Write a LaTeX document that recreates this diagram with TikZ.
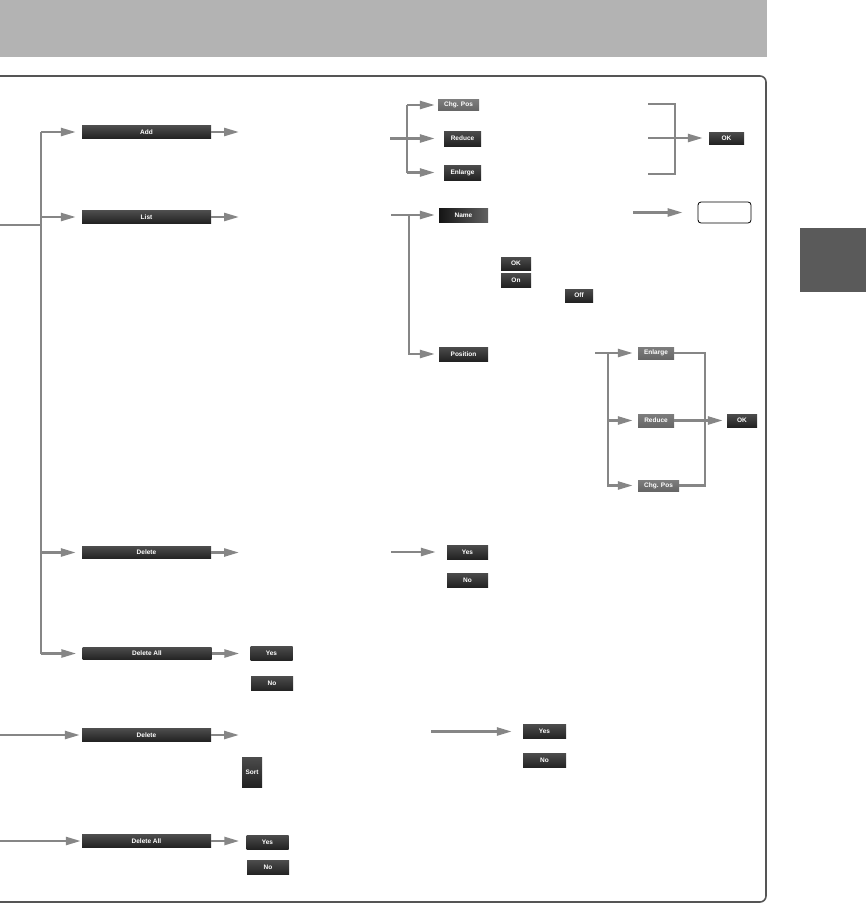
\documentclass[tikz,border=0pt]{standalone}
\usepackage{fontspec}
\setmainfont{Liberation Sans}
\usetikzlibrary{arrows.meta,calc,positioning}
\definecolor{bargray}{HTML}{B3B3B3}
\definecolor{framegray}{HTML}{555555}
\definecolor{linegray}{HTML}{868686}
\definecolor{btntop}{HTML}{4C4C4C}
\definecolor{btnbot}{HTML}{222222}
\definecolor{btnmid}{HTML}{666666}
\definecolor{tabgray}{HTML}{5A5A5A}
\tikzset{
    flow/.style={draw=linegray, line width=2.5pt, -{Triangle[length=15pt,width=8pt]}},
    wire/.style={draw=linegray, line width=2.5pt},
    btn/.style={top color=btntop, bottom color=btnbot, text=white,
        font=\bfseries\fontsize{6.5}{7}\selectfont, inner sep=0pt},
    btnlight/.style={btn, top color=btnmid!85!white, bottom color=btnmid},
    namebtn/.style={left color=black!92, right color=black!62, text=white,
        font=\bfseries\fontsize{6.5}{7}\selectfont, inner sep=0pt},
    wide/.style={btn, minimum width=129pt, minimum height=12.5pt},
    small/.style={btn, minimum width=42pt, minimum height=14.5pt},
}

\begin{document}
\begin{tikzpicture}[x=1pt,y=-1pt]
        \useasboundingbox (0,0) rectangle (866,905);
        \clip (0,0) rectangle (866,905);
        \fill[bargray] (0,0) rectangle (767,57);
        \draw[framegray, line width=1.6pt, rounded corners=6pt] (-20,76) rectangle (766,902);
        \fill[tabgray] (800,228) rectangle (866,292);

        \node[wide] (add) at (146.5,132) {Add};
        \node[wide] (list) at (146.5,217) {List};
        \node[wide] (del) at (146.5,552.5) {Delete};
        \node[wide] (delall) at (147,653.5) {Delete All};
        \node[small] (yesA) at (271.5,653.5) {Yes};
        \node[small] (noA) at (272,683.5) {No};
        \node[wide] (delB) at (146.5,735) {Delete};
        \node[btn, minimum width=20pt, minimum height=30pt] (sort) at (252,772) {Sort};
        \node[wide] (delallB) at (146.5,841) {Delete All};
        \node[small, minimum height=14pt] (yesB) at (267.5,842) {Yes};
        \node[small] (noB) at (268,867.5) {No};

        \node[btnlight, minimum width=41pt, minimum height=11pt] (chgA) at (458.5,105) {Chg. Pos};
        \node[btn, minimum width=37pt, minimum height=15pt] (redA) at (462.5,138.5) {Reduce};
        \node[btn, minimum width=37pt, minimum height=15pt] (enlA) at (462.5,172.5) {Enlarge};
        \node[btn, minimum width=35pt, minimum height=12pt] (okA) at (726.5,138) {OK};
        \node[namebtn, minimum width=49pt, minimum height=14pt] (name) at (463.5,215) {Name};
        \node[draw, thick, fill=white, rounded corners=3pt, minimum width=53pt, minimum height=21pt] (namebox) at (724.5,212.5) {};
        \node[btn, minimum width=30pt, minimum height=13pt] (okN) at (516,263.5) {OK};
        \node[btn, minimum width=30pt, minimum height=14pt] (onN) at (516,280) {On};
        \node[btn, minimum width=28pt, minimum height=13pt] (offN) at (579,295.5) {Off};
        \node[btn, minimum width=49pt, minimum height=14pt] (pos) at (463.5,354) {Position};
        \node[btnlight, minimum width=36pt, minimum height=12pt] (enlB) at (656,353) {Enlarge};
        \node[btnlight, minimum width=36pt, minimum height=13pt] (redB) at (656,420.5) {Reduce};
        \node[btnlight, minimum width=41pt, minimum height=11pt] (chgB) at (658.5,485.5) {Chg. Pos};
        \node[btn, minimum width=30pt, minimum height=13pt] (okB) at (742,420.5) {OK};
        \node[small, minimum width=41pt, minimum height=14pt] (yesC) at (467.5,552) {Yes};
        \node[small, minimum width=41pt, minimum height=14pt] (noC) at (467.5,580) {No};
        \node[small, minimum width=43pt] (yesD) at (544.5,731.5) {Yes};
        \node[small, minimum width=43pt] (noD) at (544.5,760.5) {No};

        \coordinate (srcA) at (0,225);
        \coordinate (trunk) at (41,225);
        \coordinate (endx) at (239,0);
        \draw[wire] (srcA) -- (trunk);
        \draw[wire] (trunk |- add) -- (trunk |- delall);
        \foreach \n in {add,list,del,delall} {
            \draw[flow, shorten >=6pt] (trunk |- \n) -- (\n);
        }
        \foreach \n in {add,list,del,delB} {
            \draw[flow] (\n) -- (\n -| endx);
        }
        \draw[flow, shorten >=11pt] (delall) -- (yesA);
        \draw[flow, shorten >=7pt] (delallB) -- (delallB -| yesB.west);

        \coordinate (srcB) at (0,735);
        \coordinate (srcC) at (0,841);
        \draw[flow, shorten >=2pt] (srcB) -- (delB);
        \draw[flow, shorten >=1pt] (srcC) -- (delallB);

        \coordinate (srcR) at (390,138.5);
        \coordinate (brA) at (407,138.5);
        \draw[wire] (brA |- chgA) -- (brA |- enlA);
        \draw[flow, shorten >=3pt] (brA |- chgA) -- (chgA);
        \draw[flow, shorten >=9pt] (srcR) -- (redA);
        \draw[flow, shorten >=9pt] (brA |- enlA) -- (enlA);

        \coordinate (rA1) at (648,104);
        \coordinate (rA2) at (648,138);
        \coordinate (rA3) at (648,174);
        \coordinate (rjA) at (675,138);
        \draw[wire] (rA1) -| (rjA) |- (rA3);
        \draw[wire] (rA2) -- (rjA);
        \draw[flow, shorten >=6pt] (rjA) -- (okA);

        \coordinate (srcN) at (391,215);
        \coordinate (brN) at (409,215);
        \coordinate (srcM) at (633,212.5);
        \draw[flow, shorten >=4pt] (srcN) -- (name);
        \draw[flow, shorten >=4pt] (brN) |- (pos);
        \draw[flow, shorten >=15pt] (srcM) -- (namebox);

        \coordinate (srcE) at (595,353);
        \coordinate (brE) at (608,353);
        \coordinate (rjB) at (705,420.5);
        \draw[wire] (srcE) -- (brE);
        \draw[flow, shorten >=5pt] (brE) -- (enlB);
        \draw[flow, shorten >=5pt] (brE) |- (redB);
        \draw[flow, shorten >=5pt] (brE) |- (chgB);
        \draw[wire] (enlB) -| (rjB) |- (chgB);
        \draw[flow, shorten >=4pt] (redB) -- (okB);

        \coordinate (srcY) at (391,552);
        \coordinate (srcD) at (431,731.5);
        \draw[flow, shorten >=11pt] (srcY) -- (yesC);
        \draw[flow, shorten >=11pt] (srcD) -- (yesD);
\end{tikzpicture}
\end{document}
